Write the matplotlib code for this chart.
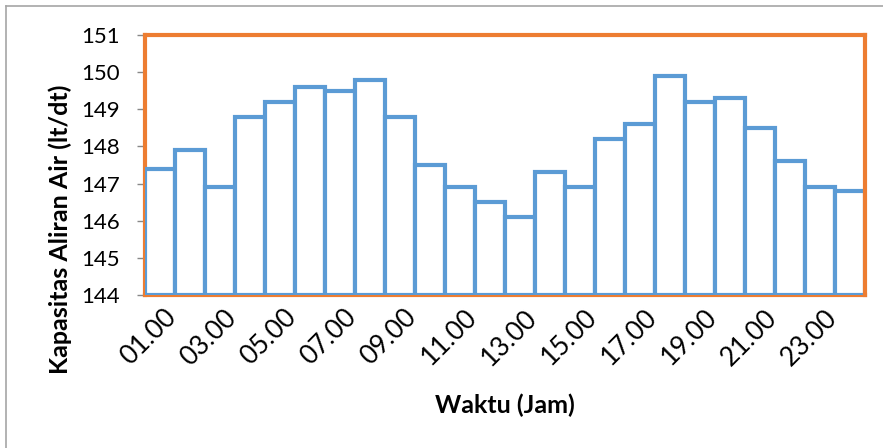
import matplotlib
matplotlib.use("Agg")
import matplotlib.pyplot as plt
from matplotlib.lines import Line2D
from matplotlib.transforms import ScaledTranslation

hours = ["01.00", "02.00", "03.00", "04.00", "05.00", "06.00", "07.00", "08.00",
         "09.00", "10.00", "11.00", "12.00", "13.00", "14.00", "15.00", "16.00",
         "17.00", "18.00", "19.00", "20.00", "21.00", "22.00", "23.00", "24.00"]
flow = [147.4, 147.9, 146.9, 148.8, 149.2, 149.6, 149.5, 149.8,
        148.8, 147.5, 146.9, 146.5, 146.1, 147.3, 146.9, 148.2,
        148.6, 149.9, 149.2, 149.3, 148.5, 147.6, 146.9, 146.8]
yticks = [144, 145, 146, 147, 148, 149, 150, 151]

plt.rcParams['font.family'] = ['Lato', 'DejaVu Sans']

fig = plt.figure(figsize=(8.83, 4.48), dpi=100)
ax = fig.add_axes([145/883, 1-295/448, 720/883, 260/448])

blue = '#5B9BD5'
orange = '#ED7D31'
x = list(range(len(hours)))
base = yticks[0]
ax.bar(x, [v - base for v in flow], bottom=base, width=1.0, color='white',
       edgecolor=blue, linewidth=3.0, zorder=3, joinstyle='miter')

ax.set_xlim(-0.5, len(hours) - 0.5)
ax.set_ylim(yticks[0], yticks[-1])
ax.set_yticks(yticks)
ax.set_yticklabels([str(t) for t in yticks], fontsize=16)
ax.set_xticks(x[::2])
ax.set_xticklabels(hours[::2], rotation=45, ha='right', rotation_mode='anchor',
                   fontsize=19)
ax.tick_params(axis='x', length=0, pad=7)
ax.tick_params(axis='y', length=6, color='#888888', width=1, pad=12)
shift = ScaledTranslation(4/100, 0, fig.dpi_scale_trans)
for lbl in ax.get_xticklabels():
    lbl.set_transform(lbl.get_transform() + shift)

for s in ['top', 'left', 'right', 'bottom']:
    ax.spines[s].set_color(orange)
    ax.spines[s].set_linewidth(3)
ax.spines['top'].set_zorder(4)
ax.spines['right'].set_zorder(4)

ax.set_ylabel('Kapasitas Aliran Air (lt/dt)', fontsize=18, fontweight='bold')
ax.yaxis.set_label_coords(-0.118, 0.254)
ax.set_xlabel('Waktu (Jam)', fontsize=18, fontweight='bold')
ax.xaxis.set_label_coords(0.5, -0.423)
ax.xaxis.label.set_va('center')
ax.yaxis.label.set_va('center')

# chart area border (left and top visible)
fig.add_artist(Line2D([6/883, 6/883], [0, 1-6/448], transform=fig.transFigure,
                      color='#A6A6A6', linewidth=1.2))
fig.add_artist(Line2D([6/883, 1], [1-6/448, 1-6/448], transform=fig.transFigure,
                      color='#A6A6A6', linewidth=1.2))

fig.savefig('out.png', dpi=100)
